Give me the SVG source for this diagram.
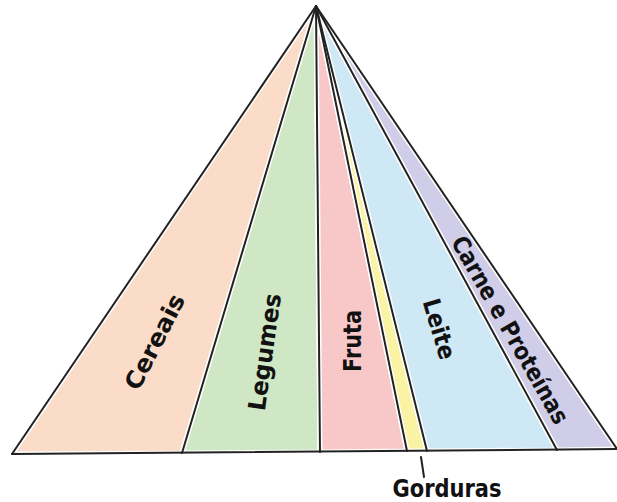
<svg xmlns="http://www.w3.org/2000/svg" width="617" height="502" viewBox="0 0 617 502">
<style>
.fill{stroke:#fff;stroke-width:5;stroke-linejoin:round}
.ln{stroke:#222;stroke-width:2;fill:none;stroke-linecap:round}
.lbl{font-family:"DejaVu Sans","Liberation Sans",sans-serif;font-weight:bold;font-size:24px;fill:#111;text-anchor:middle}
</style>
<rect width="617" height="502" fill="#fff"/>
<g id="cereais">
<polygon class="fill" fill="#fbdcc9" points="316,6 12,454 182,453"/>
<text class="lbl" transform="translate(155,342) rotate(-63)" y="8" textLength="104" lengthAdjust="spacingAndGlyphs">Cereais</text>
</g>
<g id="legumes">
<polygon class="fill" fill="#cfe7c5" points="316,6 182,453 320,452"/>
<text class="lbl" transform="translate(265,352) rotate(-82)" y="8" textLength="118" lengthAdjust="spacingAndGlyphs">Legumes</text>
</g>
<g id="fruta">
<polygon class="fill" fill="#f8c8c8" points="316,6 320,452 407,451"/>
<text class="lbl" transform="translate(353,341) rotate(-90)" y="8" textLength="62" lengthAdjust="spacingAndGlyphs">Fruta</text>
</g>
<g id="gorduras">
<polygon class="fill" fill="#fbf3a4" points="316,6 407,451 427,451"/>
<text class="lbl" x="447" y="497" font-size="21" textLength="109" lengthAdjust="spacingAndGlyphs">Gorduras</text>
</g>
<g id="leite">
<polygon class="fill" fill="#cfe8f6" points="316,6 427,451 557,450"/>
<text class="lbl" transform="translate(439,329) rotate(73.5)" y="8" textLength="62" lengthAdjust="spacingAndGlyphs">Leite</text>
</g>
<g id="carne">
<polygon class="fill" fill="#d0cde8" points="316,6 557,450 617,449"/>
<text class="lbl" transform="translate(510,330) rotate(60.3)" y="8" font-size="23" textLength="212" lengthAdjust="spacingAndGlyphs">Carne e Proteínas</text>
</g>
<g id="connectors">
<line class="ln" x1="316" y1="6" x2="12" y2="454"/>
<line class="ln" x1="316" y1="6" x2="182" y2="453"/>
<line class="ln" x1="316" y1="6" x2="320" y2="452"/>
<line class="ln" x1="316" y1="6" x2="407" y2="451"/>
<line class="ln" x1="316" y1="6" x2="427" y2="451"/>
<line class="ln" x1="316" y1="6" x2="557" y2="450"/>
<line class="ln" x1="316" y1="6" x2="617" y2="449"/>
<line class="ln" x1="12" y1="454" x2="617" y2="449" stroke-width="2.5" stroke="#333"/>
<line class="ln" x1="421" y1="457" x2="424" y2="477" stroke-width="1.5"/>
</g>
</svg>
